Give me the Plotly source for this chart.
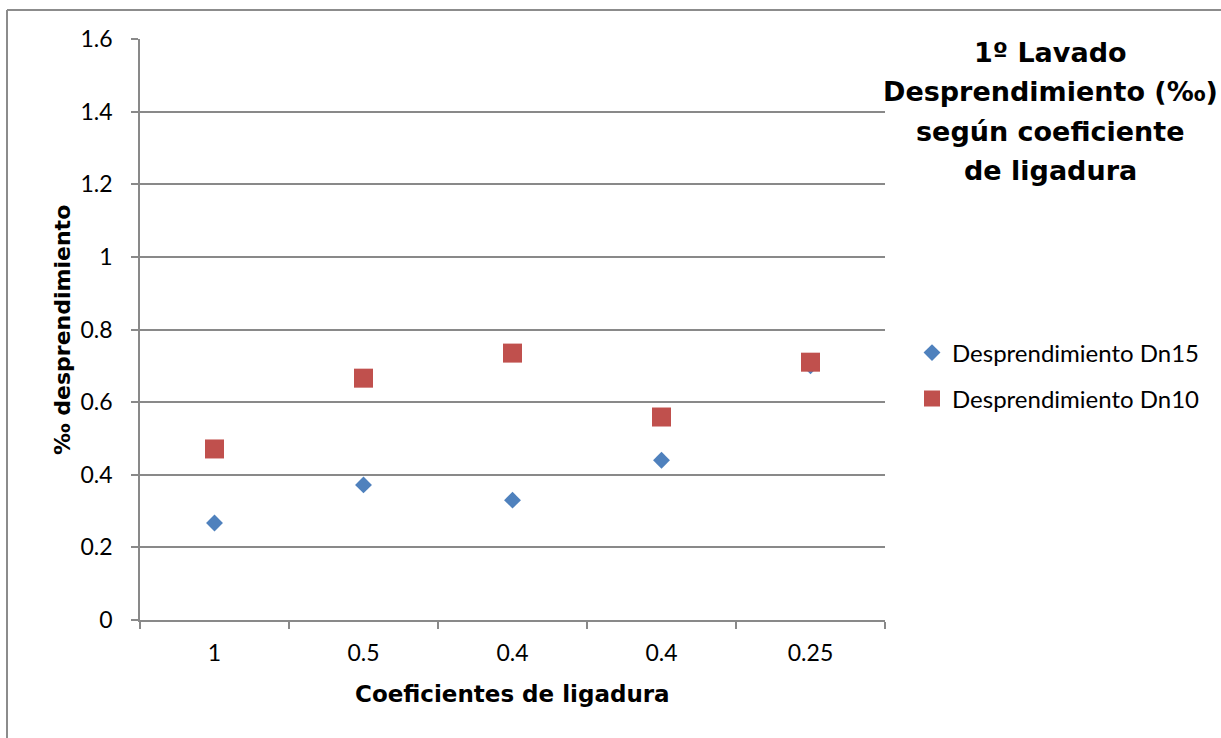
import plotly.graph_objects as go

# Coefficient categories (x axis) and detachment values (‰)
categorias = ["1", "0.5", "0.4", "0.4", "0.25"]
dn15 = [0.267, 0.372, 0.330, 0.440, 0.700]
dn10 = [0.471, 0.666, 0.735, 0.559, 0.710]
y_ticks = [0, 0.2, 0.4, 0.6, 0.8, 1.0, 1.2, 1.4, 1.6]
titulo = ["1º Lavado", "Desprendimiento (‰)", "según coeficiente", "de ligadura"]

posiciones = list(range(1, len(categorias) + 1))
limites = [p - 0.5 for p in posiciones] + [posiciones[-1] + 0.5]

W, H = 1221, 738
L, R, T, B = 140, 336, 39, 118
pw, ph = W - L - R, H - T - B


def px_x(px):
    return (px - L) / pw


def px_y(py):
    return (H - B - py) / ph


GRID = "#898989"
TICK_FONT = dict(family="Lato", size=23, color="#000000")
BOLD = "DejaVu Sans"

fig = go.Figure()
fig.add_trace(go.Scatter(
    x=posiciones, y=dn15, mode="markers", name="Desprendimiento Dn15",
    marker=dict(symbol="diamond", size=13, color="#4F81BD"),
    legend="legend",
))
fig.add_trace(go.Scatter(
    x=posiciones, y=dn10, mode="markers", name="Desprendimiento Dn10",
    marker=dict(symbol="square", size=19, color="#C0504D"),
    legend="legend2",
))

fig.update_xaxes(
    range=[limites[0], limites[-1]],
    tickvals=posiciones, ticktext=categorias,
    ticks="", showgrid=False, zeroline=False,
    showline=True, linecolor=GRID, linewidth=1.5,
    tickfont=TICK_FONT, ticklabelstandoff=12,
    minor=dict(tickvals=limites, ticks="outside", ticklen=7,
               tickcolor=GRID, tickwidth=1.5, showgrid=False),
)
fig.update_yaxes(
    range=[0, 1.6], tickvals=y_ticks,
    ticks="outside", ticklen=7, tickcolor=GRID, tickwidth=1.5,
    showgrid=True, gridcolor=GRID, gridwidth=1.5, zeroline=False,
    showline=True, linecolor=GRID, linewidth=1.5,
    tickfont=TICK_FONT, ticklabelstandoff=14,
)

legend_common = dict(
    xanchor="left", yanchor="middle", bgcolor="rgba(0,0,0,0)",
    font=dict(family="Lato", size=24, color="#000000"),
    itemclick=False,
)

annotations = []
for linea, ypx in zip(titulo, [52, 92, 131, 170]):
    annotations.append(dict(
        text=f"<b>{linea}</b>", x=px_x(1050), y=px_y(ypx),
        xref="paper", yref="paper", xanchor="center", yanchor="middle",
        showarrow=False, font=dict(family=BOLD, size=27, color="#000000"),
    ))
annotations += [
    dict(text="<b>‰ desprendimiento</b>",
         x=px_x(62), y=px_y(330), xref="paper", yref="paper",
         xanchor="center", yanchor="middle", showarrow=False, textangle=-90,
         font=dict(family=BOLD, size=22, color="#000000")),
    dict(text="<b>Coeficientes de ligadura</b>",
         x=px_x(512), y=px_y(694), xref="paper", yref="paper",
         xanchor="center", yanchor="middle", showarrow=False,
         font=dict(family=BOLD, size=23, color="#000000")),
]

fig.update_layout(
    width=W, height=H,
    margin=dict(l=L, r=R, t=T, b=B),
    paper_bgcolor="white", plot_bgcolor="white",
    showlegend=True,
    legend=dict(x=px_x(912), y=px_y(353), **legend_common),
    legend2=dict(x=px_x(912), y=px_y(399), **legend_common),
    annotations=annotations,
    shapes=[
        dict(type="line", xref="paper", yref="paper",
             x0=px_x(7), y0=px_y(H + 5), x1=px_x(7), y1=px_y(10),
             line=dict(color="#8c8c8c", width=2)),
        dict(type="line", xref="paper", yref="paper",
             x0=px_x(7), y0=px_y(10), x1=px_x(W + 5), y1=px_y(10),
             line=dict(color="#8c8c8c", width=2)),
    ],
)

fig.write_html("out.html")
